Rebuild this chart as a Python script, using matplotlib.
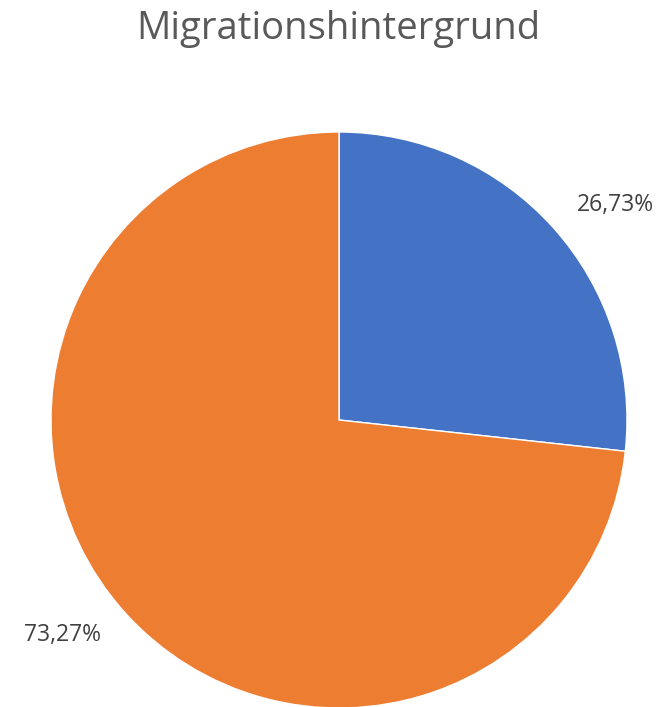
import numpy as np
import matplotlib.pyplot as plt

# Daten
kategorien = ['Mit Migrationshintergrund', 'Ohne Migrationshintergrund']
anteile = [26.73, 73.27]
farben = ['#4472C4', '#ED7D31']

plt.rcParams['font.family'] = ['Open Sans', 'DejaVu Sans']

fig = plt.figure(figsize=(6.62, 7.07), dpi=100)
W, H = 662, 707
cx, cy, r = 339, 420, 288
ax = fig.add_axes([(cx - r) / W, (H - cy - r) / H, 2 * r / W, 2 * r / H])

wedges, texts, autotexts = ax.pie(
    anteile,
    colors=farben,
    startangle=90,
    counterclock=False,
    radius=1,
    autopct=lambda p: f"{p:.2f}".replace('.', ',') + '%',
    pctdistance=1.21,
    wedgeprops=dict(edgecolor='white', linewidth=1),
    textprops=dict(fontsize=16.5, color='#404040'),
)

# Beschriftungen wie in Excel etwas versetzt ("außen am Ende")
for w, t in zip(wedges, autotexts):
    mitte = np.deg2rad((w.theta1 + w.theta2) / 2 - 4)
    t.set_position((1.215 * np.cos(mitte), 1.215 * np.sin(mitte)))

ax.set_xlim(-1, 1)
ax.set_ylim(-1, 1)
ax.set_aspect('equal')

fig.text(338 / W, 1 - 29 / H, 'Migrationshintergrund', ha='center', va='center',
         fontsize=27.5, color='#595959')

plt.savefig('out.png', dpi=100)
